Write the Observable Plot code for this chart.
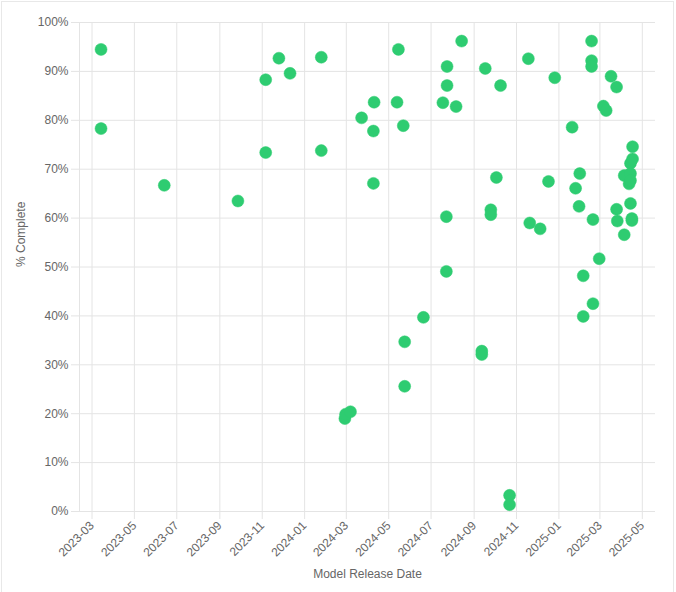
<!DOCTYPE html>
<html>
<head>
<meta charset="utf-8">
<script src="https://cdn.jsdelivr.net/npm/d3@7"></script>
<script src="https://cdn.jsdelivr.net/npm/@observablehq/plot@0.6"></script>
<style>
  html, body { margin: 0; padding: 0; background: #fff; }
  #wrap { position: relative; width: 676px; height: 592px; overflow: hidden; }
  #frame { position: absolute; left: 1px; top: 1px; width: 673px; height: 600px; box-sizing: border-box; border: 1px solid #e8e8e8; pointer-events: none; }
</style>
</head>
<body>
<div id="wrap"><div id="frame"></div></div>
<script>
const releaseDates = [
  "2023-03-14","2023-03-14","2023-06-13","2023-09-27","2023-11-06","2023-11-06",
  "2023-11-25","2023-12-11","2024-01-25","2024-01-25",
  "2024-02-28","2024-02-29","2024-03-07","2024-03-23","2024-04-10","2024-04-09","2024-04-09",
  "2024-05-13","2024-05-15","2024-05-22","2024-05-24","2024-05-24","2024-06-20",
  "2024-07-18","2024-07-24","2024-07-24","2024-07-23","2024-07-23","2024-08-06","2024-08-14",
  "2024-09-12","2024-09-12","2024-09-17","2024-09-25","2024-09-25","2024-10-03","2024-10-09",
  "2024-10-22","2024-10-22","2024-11-18","2024-11-20","2024-12-05","2024-12-17","2024-12-26",
  "2025-01-20","2025-01-25","2025-01-30","2025-01-31","2025-02-05","2025-02-05",
  "2025-02-17","2025-02-17","2025-02-17","2025-02-19","2025-02-19","2025-02-28",
  "2025-03-06","2025-03-10","2025-03-17","2025-03-25","2025-03-25","2025-03-26",
  "2025-04-05","2025-04-05","2025-04-14","2025-04-14","2025-04-17","2025-04-17",
  "2025-04-12","2025-04-14","2025-04-14","2025-04-16","2025-04-16"
];
const percentComplete = [
  94.5,78.3,66.7,63.5,88.3,73.4,
  92.7,89.6,92.9,73.8,
  19.0,19.9,20.4,80.5,83.7,77.8,67.1,
  83.7,94.5,78.9,34.7,25.6,39.7,
  83.6,91.0,87.1,60.3,49.1,82.8,96.2,
  32.8,32.1,90.6,61.7,60.7,68.3,87.1,
  3.3,1.4,92.6,59.0,57.8,67.5,88.7,
  78.6,66.1,62.4,69.1,48.2,39.9,
  96.2,92.2,91.0,59.7,42.5,51.7,
  82.9,82.0,89.0,86.8,61.8,59.4,
  68.7,56.6,69.1,71.2,74.6,72.1,
  67.0,67.7,63.0,59.9,59.5
];
const xDomain = ["2023-02-11", "2025-05-20"];
const yTicks = [0,10,20,30,40,50,60,70,80,90,100];

const data = releaseDates.map((d, i) => ({date: new Date(d + "T00:00:00Z"), pct: percentComplete[i]}));
const xTicks = d3.utcMonth.every(2).range(new Date("2023-03-01T00:00:00Z"), new Date("2025-05-02T00:00:00Z"));

const gridColor = "#e4e4e4";
const textColor = "#666";

const chart = Plot.plot({
  width: 676,
  height: 592,
  marginLeft: 79,
  marginRight: 21,
  marginTop: 22,
  marginBottom: 81,
  style: {fontFamily: "'Liberation Sans', Arial, Helvetica, sans-serif", fontSize: "12px", color: textColor, background: "transparent"},
  x: {type: "utc", domain: xDomain.map(d => new Date(d + "T00:00:00Z"))},
  y: {domain: [0, 100]},
  marks: [
    Plot.gridX(xTicks, {stroke: gridColor, strokeOpacity: 1}),
    Plot.gridY(yTicks, {stroke: gridColor, strokeOpacity: 1}),
    Plot.ruleX([new Date(xDomain[0] + "T00:00:00Z")], {stroke: gridColor}),
    Plot.axisX(xTicks, {
      tickFormat: d3.utcFormat("%Y-%m"),
      tickRotate: -45,
      tickSize: 8,
      tickPadding: 4,
      stroke: gridColor,
      fill: textColor,
      label: null
    }),
    Plot.axisY(yTicks, {
      tickFormat: d => d + "%",
      tickSize: 8,
      tickPadding: 3,
      stroke: gridColor,
      fill: textColor,
      label: null
    }),
    Plot.text(["Model Release Date"], {frameAnchor: "bottom", dy: 66, fill: textColor, fontSize: 12}),
    Plot.text(["% Complete"], {frameAnchor: "left", dx: -58, rotate: -90, fill: textColor, fontSize: 12}),
    Plot.dot(data, {x: "date", y: "pct", r: 6, fill: "#2ecc71", stroke: "#2ecc71", strokeWidth: 0.5})
  ]
});
chart.style.position = "absolute";
chart.style.left = "0";
chart.style.top = "0";
document.getElementById("wrap").insertBefore(chart, document.getElementById("frame"));
</script>
</body>
</html>
